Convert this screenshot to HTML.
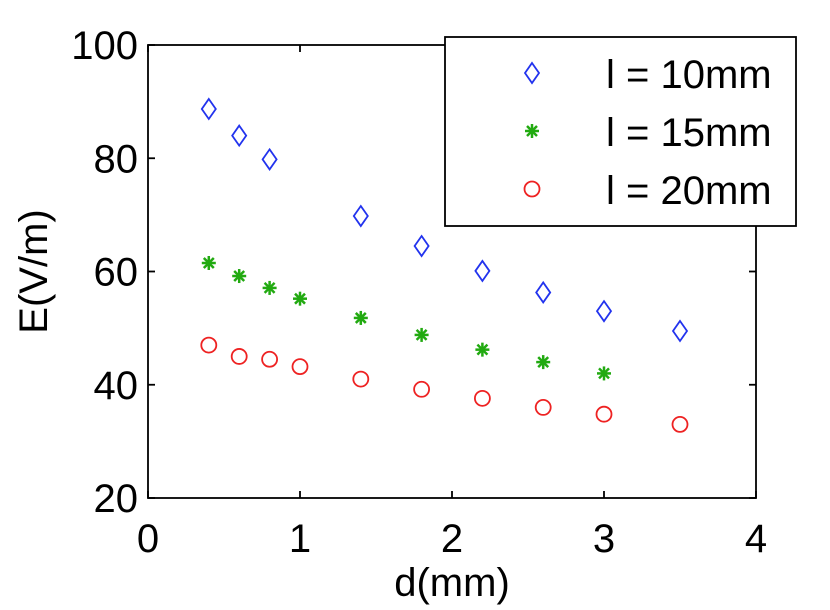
<!DOCTYPE html>
<html><head><meta charset="utf-8"><style>
body{margin:0;background:#fff;}
svg{display:block;font-family:"Liberation Sans",Arial,sans-serif;}
</style></head><body>
<svg id="chart" width="830" height="610"></svg>
<script>
const xs1=[0.4,0.6,0.8,1.4,1.8,2.2,2.6,3.0,3.5];
const l10=[88.7,84,79.8,69.8,64.5,60.1,56.3,53,49.5];
const xs2=[0.4,0.6,0.8,1.0,1.4,1.8,2.2,2.6,3.0];
const l15=[61.5,59.2,57.1,55.2,51.8,48.8,46.2,44,42];
const xs3=[0.4,0.6,0.8,1.0,1.4,1.8,2.2,2.6,3.0,3.5];
const l20=[47,45,44.5,43.2,41,39.2,37.6,36,34.8,33];
const xTicks=[0,1,2,3,4];
const yTicks=[20,40,60,80,100];
const legendLabels=["l = 10mm","l = 15mm","l = 20mm"];

const NS="http://www.w3.org/2000/svg";
const svg=document.getElementById('chart');
const L=148,R=756,T=45,B=498;
const sx=v=>L+(v-0)/(4-0)*(R-L);
const sy=v=>B-(v-20)/(100-20)*(B-T);
function mk(tag,attrs,parent){const e=document.createElementNS(NS,tag);for(const k in attrs)e.setAttribute(k,attrs[k]);(parent||svg).appendChild(e);return e;}

const frame=mk('rect',{x:L,y:T,width:R-L,height:B-T,fill:'none',stroke:'#000','stroke-width':1.8});



xTicks.forEach(t=>{
  const x=sx(t);
  mk('line',{x1:x,y1:B,x2:x,y2:B-7,stroke:'#000','stroke-width':1.8});
  mk('line',{x1:x,y1:T,x2:x,y2:T+7,stroke:'#000','stroke-width':1.8});
  const tx=mk('text',{x:x,y:B+54,'font-size':40,'text-anchor':'middle'});
  tx.textContent=t;
  
  
});
yTicks.forEach(t=>{
  const y=sy(t);
  mk('line',{x1:L,y1:y,x2:L+7,y2:y,stroke:'#000','stroke-width':1.8});
  mk('line',{x1:R,y1:y,x2:R-7,y2:y,stroke:'#000','stroke-width':1.8});
  const tx=mk('text',{x:L-10,y:y+14,'font-size':40,'text-anchor':'end'});
  tx.textContent=t;
  
  
});
const xt=mk('text',{x:(L+R)/2,y:596,'font-size':40,'text-anchor':'middle'});
xt.textContent='d(mm)';


const yt=mk('text',{x:0,y:0,'font-size':40,'text-anchor':'middle',transform:'translate(47,'+((T+B)/2)+') rotate(-90)'});
yt.textContent='E(V/m)';



function diamond(x,y,p){return mk('polygon',{points:`${x},${y-10} ${x+7},${y} ${x},${y+10} ${x-7},${y}`,fill:'none',stroke:'#2233ee','stroke-width':1.8},p);}
function star(x,y,p){const g=mk('g',{stroke:'#22aa11','stroke-width':2.5},p);
  mk('line',{x1:x-7,y1:y,x2:x+7,y2:y},g);mk('line',{x1:x,y1:y-7,x2:x,y2:y+7},g);
  mk('line',{x1:x-5,y1:y-5,x2:x+5,y2:y+5},g);mk('line',{x1:x-5,y1:y+5,x2:x+5,y2:y-5},g);return g;}
function circ(x,y,p){return mk('circle',{cx:x,cy:y,r:7.5,fill:'none',stroke:'#ee2222','stroke-width':1.8},p);}

xs1.forEach((v,i)=>{const e=diamond(sx(v),sy(l10[i]));});
xs2.forEach((v,i)=>{const e=star(sx(v),sy(l15[i]));});
xs3.forEach((v,i)=>{const e=circ(sx(v),sy(l20[i]));});

const lg=mk('g',{});


mk('rect',{x:445,y:37,width:351,height:189,fill:'#fff',stroke:'#000','stroke-width':1.8},lg);
const fns=[diamond,star,circ];
[73,131,189].forEach((y,i)=>{
  const m=fns[i](532,y,lg);
  const t=mk('text',{x:606,y:y+15,'font-size':40},lg);
  t.textContent=legendLabels[i];
  
  
});
</script>
</body></html>
